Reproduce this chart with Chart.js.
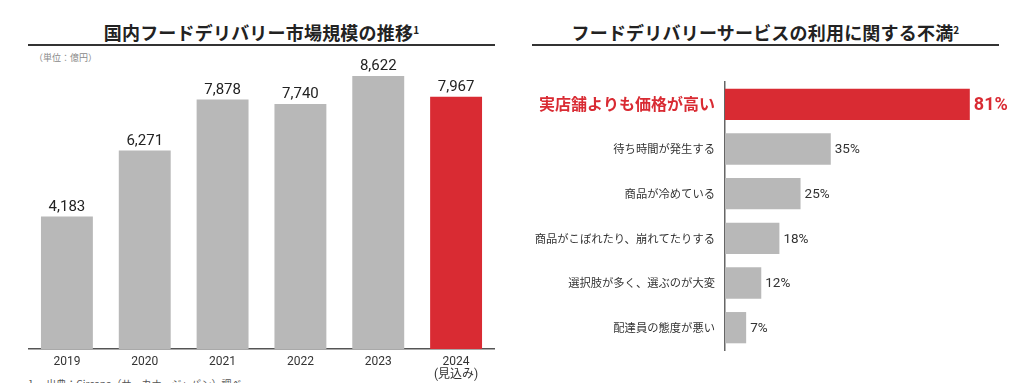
<!DOCTYPE html>
<html>
<head>
<meta charset="utf-8">
<script src="https://cdn.jsdelivr.net/npm/chart.js@4"></script>
<style>
  body { margin: 0; background: #fff; width: 1024px; height: 383px; overflow: hidden; position: relative;
         font-family: Roboto, "Noto Sans CJK JP", sans-serif; }
  .title { position: absolute; top: 19px; font-size: 18px; font-weight: bold; color: #222; text-align: center;
           font-family: "Noto Sans CJK JP", sans-serif; letter-spacing: 0.2px; }
  .title sup { font-size: 10px; vertical-align: 6px; }
  .rule { position: absolute; top: 44px; height: 2px; background: #333; }
  .unit { position: absolute; left: 34px; top: 51px; font-size: 9px; color: #8a8a8a; font-family: "Noto Sans CJK JP", sans-serif; }
  .note { position: absolute; left: 28px; top: 376px; font-size: 10px; color: #555; font-family: "Noto Sans CJK JP", sans-serif; }
  .box { position: absolute; top: 0; height: 383px; }
</style>
</head>
<body>
<div class="title" style="left:28px;width:467px;">国内フードデリバリー市場規模の推移<sup>1</sup></div>
<div class="rule" style="left:28px;width:467px;"></div>
<div class="unit">（単位：億円）</div>
<div class="title" style="left:532px;width:467px;">フードデリバリーサービスの利用に関する不満<sup>2</sup></div>
<div class="rule" style="left:532px;width:467px;"></div>
<div class="note">1.　出典：Circana（サーカナ・ジャパン）調べ</div>

<div class="box" style="left:28px;width:467px;"><canvas id="market-chart"></canvas></div>
<div class="box" style="left:520px;width:504px;"><canvas id="complaint-chart"></canvas></div>

<script>
// market size (億円)
const years = ['2019', '2020', '2021', '2022', '2023', ['2024', '(見込み)']];
const marketValues = [4183, 6271, 7878, 7740, 8622, 7967];

// complaints (%)
const complaints = [
    '実店舗よりも価格が高い',
    '待ち時間が発生する',
    '商品が冷めている',
    '商品がこぼれたり、崩れてたりする',
    '選択肢が多く、選ぶのが大変',
    '配達員の態度が悪い'
];
const complaintValues = [81, 35, 25, 18, 12, 7];

const RED = '#d92b33';
const GREY = '#b8b8b8';
const FONT = 'Roboto, "Noto Sans CJK JP", sans-serif';
const JP_FONT = '"Noto Sans CJK JP", sans-serif';

// Plugin to write value labels on bars
const valueLabels = {
    id: 'valueLabels',
    afterDatasetsDraw(chart, args, opts) {
        const ctx = chart.ctx;
        const meta = chart.getDatasetMeta(0);
        const values = chart.data.datasets[0].data;
        ctx.save();
        meta.data.forEach((bar, i) => {
            if (opts.horizontal) {
                const first = i === 0;
                ctx.font = (first ? 'bold 18px ' : '13.5px ') + FONT;
                ctx.fillStyle = first ? RED : '#333';
                ctx.textAlign = 'left';
                ctx.textBaseline = 'middle';
                ctx.fillText(values[i] + '%', bar.x + 4, bar.y + 1);
            } else {
                ctx.font = '15px ' + FONT;
                ctx.fillStyle = '#222';
                ctx.textAlign = 'center';
                ctx.textBaseline = 'bottom';
                ctx.fillText(values[i].toLocaleString('en-US'), bar.x, bar.y - 2);
            }
        });
        ctx.restore();
    }
};

new Chart(document.getElementById('market-chart').getContext('2d'), {
    type: 'bar',
    data: {
        labels: years,
        datasets: [{
            data: marketValues,
            backgroundColor: marketValues.map((v, i) => i === marketValues.length - 1 ? RED : GREY),
            barPercentage: 0.667,
            categoryPercentage: 1,
        }]
    },
    options: {
        responsive: true,
        maintainAspectRatio: false,
        animation: false,
        layout: { padding: { top: 64, bottom: 0, left: 0, right: 0 } },
        plugins: {
            legend: { display: false },
            tooltip: { enabled: false },
            valueLabels: { horizontal: false }
        },
        scales: {
            x: {
                grid: { display: false, drawTicks: false },
                border: { display: true, color: '#555', width: 1.5 },
                ticks: { color: '#333', font: { size: 12, family: FONT, lineHeight: 1.1 }, padding: 6, maxRotation: 0 },
                afterFit: (scale) => { scale.height = 34; }
            },
            y: {
                display: false,
                min: 0,
                max: 9000
            }
        }
    },
    plugins: [valueLabels]
});

new Chart(document.getElementById('complaint-chart').getContext('2d'), {
    type: 'bar',
    data: {
        labels: complaints,
        datasets: [{
            data: complaintValues,
            backgroundColor: complaintValues.map((v, i) => i === 0 ? RED : GREY),
            barPercentage: 0.7,
            categoryPercentage: 1,
        }]
    },
    options: {
        indexAxis: 'y',
        responsive: true,
        maintainAspectRatio: false,
        animation: false,
        layout: { padding: { top: 82, bottom: 33, left: 0, right: 27 } },
        plugins: {
            legend: { display: false },
            tooltip: { enabled: false },
            valueLabels: { horizontal: true }
        },
        scales: {
            x: {
                display: false,
                min: 0,
                max: 90
            },
            y: {
                grid: { display: false, drawTicks: false },
                border: { display: true, color: '#666', width: 1.5 },
                ticks: {
                    padding: 10,
                    color: (c) => c.index === 0 ? RED : '#333',
                    font: (c) => c.index === 0
                        ? { size: 16, weight: 'bold', family: JP_FONT }
                        : { size: 11.3, family: JP_FONT }
                },
                afterFit: (scale) => { scale.width = 205; }
            }
        }
    },
    plugins: [valueLabels]
});
</script>
</body>
</html>
